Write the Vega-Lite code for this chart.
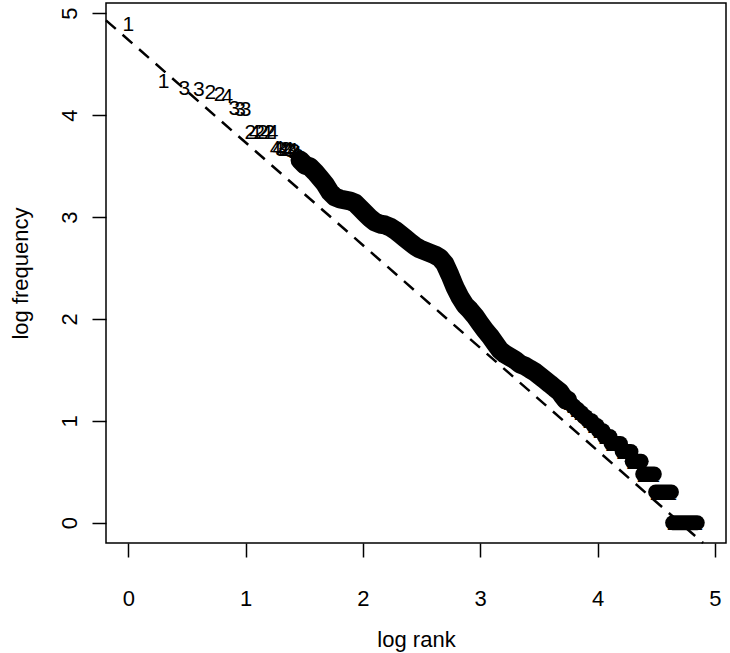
{
  "$schema": "https://vega.github.io/schema/vega-lite/v6.json",
  "width": 620,
  "height": 540,
  "autosize": {"type": "none"},
  "padding": {"left": 106, "top": 3, "right": 4, "bottom": 110},
  "background": "white",
  "config": {
    "view": {"stroke": "black", "strokeWidth": 1.5},
    "font": "Liberation Sans",
    "axis": {
      "grid": false,
      "domain": false,
      "ticks": true,
      "tickColor": "black",
      "tickWidth": 1.5,
      "tickSize": 14,
      "labelFont": "Liberation Sans",
      "labelFontSize": 22,
      "labelColor": "black",
      "labelFlush": false,
      "labelOverlap": false,
      "titleFont": "Liberation Sans",
      "titleFontSize": 22,
      "titleFontWeight": "normal",
      "titleColor": "black"
    }
  },
  "datasets": {
    "pts": [
      {"x": 0, "y": 4.9, "lab": "1", "g": "top"},
      {"x": 0.301, "y": 4.335, "lab": "1", "g": "top"},
      {"x": 0.477, "y": 4.27, "lab": "3", "g": "top"},
      {"x": 0.602, "y": 4.265, "lab": "3", "g": "top"},
      {"x": 0.699, "y": 4.23, "lab": "2", "g": "top"},
      {"x": 0.778, "y": 4.21, "lab": "2", "g": "top"},
      {"x": 0.845, "y": 4.19, "lab": "4", "g": "top"},
      {"x": 0.903, "y": 4.07, "lab": "3", "g": "top"},
      {"x": 0.954, "y": 4.065, "lab": "3", "g": "top"},
      {"x": 1.0, "y": 4.06, "lab": "3", "g": "top"},
      {"x": 1.041, "y": 3.84, "lab": "2", "g": "top"},
      {"x": 1.079, "y": 3.84, "lab": "4", "g": "top"},
      {"x": 1.114, "y": 3.84, "lab": "2", "g": "top"},
      {"x": 1.146, "y": 3.837, "lab": "2", "g": "top"},
      {"x": 1.176, "y": 3.837, "lab": "4", "g": "top"},
      {"x": 1.204, "y": 3.835, "lab": "2", "g": "top"},
      {"x": 1.23, "y": 3.835, "lab": "4", "g": "top"},
      {"x": 1.255, "y": 3.68, "lab": "4", "g": "top"},
      {"x": 1.279, "y": 3.68, "lab": "4", "g": "top"},
      {"x": 1.301, "y": 3.675, "lab": "3", "g": "top"},
      {"x": 1.322, "y": 3.675, "lab": "4", "g": "top"},
      {"x": 1.342, "y": 3.67, "lab": "2", "g": "top"},
      {"x": 1.362, "y": 3.67, "lab": "4", "g": "top"},
      {"x": 1.38, "y": 3.667, "lab": "3", "g": "top"},
      {"x": 1.398, "y": 3.66, "lab": "4", "g": "top"},
      {"x": 1.415, "y": 3.65, "lab": "2", "g": "top"},
      {"x": 1.431, "y": 3.637, "lab": "4", "g": "top"},
      {"x": 1.447, "y": 3.6, "lab": "3", "g": "top"},
      {"x": 1.464, "y": 3.559, "lab": "4", "g": "b"},
      {"x": 1.506, "y": 3.51, "lab": "2", "g": "b"},
      {"x": 1.549, "y": 3.491, "lab": "3", "g": "b"},
      {"x": 1.591, "y": 3.442, "lab": "1", "g": "b"},
      {"x": 1.634, "y": 3.383, "lab": "2", "g": "b"},
      {"x": 1.677, "y": 3.324, "lab": "4", "g": "b"},
      {"x": 1.719, "y": 3.245, "lab": "3", "g": "b"},
      {"x": 1.762, "y": 3.196, "lab": "2", "g": "b"},
      {"x": 1.804, "y": 3.177, "lab": "2", "g": "b"},
      {"x": 1.847, "y": 3.167, "lab": "3", "g": "b"},
      {"x": 1.89, "y": 3.157, "lab": "1", "g": "b"},
      {"x": 1.932, "y": 3.137, "lab": "2", "g": "b"},
      {"x": 1.975, "y": 3.088, "lab": "4", "g": "b"},
      {"x": 2.017, "y": 3.039, "lab": "2", "g": "b"},
      {"x": 2.06, "y": 2.99, "lab": "3", "g": "b"},
      {"x": 2.103, "y": 2.951, "lab": "2", "g": "b"},
      {"x": 2.145, "y": 2.931, "lab": "1", "g": "b"},
      {"x": 2.188, "y": 2.922, "lab": "2", "g": "b"},
      {"x": 2.23, "y": 2.902, "lab": "3", "g": "b"},
      {"x": 2.273, "y": 2.872, "lab": "2", "g": "b"},
      {"x": 2.316, "y": 2.833, "lab": "4", "g": "b"},
      {"x": 2.358, "y": 2.794, "lab": "2", "g": "b"},
      {"x": 2.401, "y": 2.754, "lab": "1", "g": "b"},
      {"x": 2.444, "y": 2.715, "lab": "3", "g": "b"},
      {"x": 2.486, "y": 2.686, "lab": "2", "g": "b"},
      {"x": 2.529, "y": 2.666, "lab": "2", "g": "b"},
      {"x": 2.571, "y": 2.647, "lab": "4", "g": "b"},
      {"x": 2.614, "y": 2.627, "lab": "2", "g": "b"},
      {"x": 2.656, "y": 2.598, "lab": "3", "g": "b"},
      {"x": 2.699, "y": 2.539, "lab": "2", "g": "b"},
      {"x": 2.742, "y": 2.431, "lab": "1", "g": "b"},
      {"x": 2.784, "y": 2.313, "lab": "2", "g": "b"},
      {"x": 2.827, "y": 2.215, "lab": "2", "g": "b"},
      {"x": 2.87, "y": 2.136, "lab": "3", "g": "b"},
      {"x": 2.912, "y": 2.087, "lab": "2", "g": "b"},
      {"x": 2.955, "y": 2.028, "lab": "4", "g": "b"},
      {"x": 2.997, "y": 1.959, "lab": "2", "g": "b"},
      {"x": 3.04, "y": 1.891, "lab": "1", "g": "b"},
      {"x": 3.083, "y": 1.832, "lab": "2", "g": "b"},
      {"x": 3.125, "y": 1.763, "lab": "3", "g": "b"},
      {"x": 3.168, "y": 1.695, "lab": "2", "g": "b"},
      {"x": 3.21, "y": 1.655, "lab": "2", "g": "b"},
      {"x": 3.253, "y": 1.626, "lab": "1", "g": "b"},
      {"x": 3.296, "y": 1.597, "lab": "4", "g": "b"},
      {"x": 3.338, "y": 1.558, "lab": "2", "g": "b"},
      {"x": 3.381, "y": 1.538, "lab": "3", "g": "b"},
      {"x": 3.423, "y": 1.508, "lab": "2", "g": "b"},
      {"x": 3.466, "y": 1.479, "lab": "1", "g": "b"},
      {"x": 3.509, "y": 1.44, "lab": "2", "g": "b"},
      {"x": 3.551, "y": 1.401, "lab": "2", "g": "b"},
      {"x": 3.594, "y": 1.362, "lab": "3", "g": "b"},
      {"x": 3.636, "y": 1.322, "lab": "2", "g": "b"},
      {"x": 3.679, "y": 1.283, "lab": "1", "g": "b"},
      {"x": 3.695, "y": 1.255, "lab": "2", "g": "b"},
      {"x": 3.712, "y": 1.23, "lab": "1", "g": "b"},
      {"x": 3.73, "y": 1.204, "lab": "2", "g": "b"},
      {"x": 3.745, "y": 1.204, "lab": "3", "g": "b"},
      {"x": 3.755, "y": 1.176, "lab": "2", "g": "f15"},
      {"x": 3.77, "y": 1.176, "lab": "1", "g": "f15"},
      {"x": 3.785, "y": 1.146, "lab": "2", "g": "f14"},
      {"x": 3.8, "y": 1.146, "lab": "3", "g": "f14"},
      {"x": 3.815, "y": 1.114, "lab": "2", "g": "f13"},
      {"x": 3.832, "y": 1.114, "lab": "1", "g": "f13"},
      {"x": 3.848, "y": 1.079, "lab": "2", "g": "f12"},
      {"x": 3.865, "y": 1.079, "lab": "2", "g": "f12"},
      {"x": 3.882, "y": 1.041, "lab": "3", "g": "f11"},
      {"x": 3.9, "y": 1.041, "lab": "2", "g": "f11"},
      {"x": 3.918, "y": 1.0, "lab": "1", "g": "f10"},
      {"x": 3.935, "y": 1.0, "lab": "2", "g": "f10"},
      {"x": 3.95, "y": 1.0, "lab": "3", "g": "f10"},
      {"x": 3.962, "y": 0.954, "lab": "2", "g": "f9"},
      {"x": 3.98, "y": 0.954, "lab": "2", "g": "f9"},
      {"x": 3.996, "y": 0.954, "lab": "1", "g": "f9"},
      {"x": 4.008, "y": 0.903, "lab": "2", "g": "f8"},
      {"x": 4.028, "y": 0.903, "lab": "3", "g": "f8"},
      {"x": 4.047, "y": 0.903, "lab": "2", "g": "f8"},
      {"x": 4.058, "y": 0.845, "lab": "2", "g": "f7"},
      {"x": 4.075, "y": 0.845, "lab": "1", "g": "f7"},
      {"x": 4.092, "y": 0.845, "lab": "3", "g": "f7"},
      {"x": 4.106, "y": 0.845, "lab": "2", "g": "f7"},
      {"x": 4.115, "y": 0.778, "lab": "2", "g": "f6"},
      {"x": 4.135, "y": 0.778, "lab": "3", "g": "f6"},
      {"x": 4.155, "y": 0.778, "lab": "2", "g": "f6"},
      {"x": 4.175, "y": 0.778, "lab": "1", "g": "f6"},
      {"x": 4.195, "y": 0.778, "lab": "2", "g": "f6"},
      {"x": 4.21, "y": 0.699, "lab": "2", "g": "f5"},
      {"x": 4.23, "y": 0.699, "lab": "3", "g": "f5"},
      {"x": 4.25, "y": 0.699, "lab": "2", "g": "f5"},
      {"x": 4.27, "y": 0.699, "lab": "1", "g": "f5"},
      {"x": 4.285, "y": 0.699, "lab": "2", "g": "f5"},
      {"x": 4.295, "y": 0.602, "lab": "2", "g": "f4"},
      {"x": 4.315, "y": 0.602, "lab": "3", "g": "f4"},
      {"x": 4.335, "y": 0.602, "lab": "2", "g": "f4"},
      {"x": 4.355, "y": 0.602, "lab": "1", "g": "f4"},
      {"x": 4.372, "y": 0.602, "lab": "2", "g": "f4"},
      {"x": 4.385, "y": 0.477, "lab": "2", "g": "f3"},
      {"x": 4.405, "y": 0.477, "lab": "3", "g": "f3"},
      {"x": 4.425, "y": 0.477, "lab": "2", "g": "f3"},
      {"x": 4.445, "y": 0.477, "lab": "1", "g": "f3"},
      {"x": 4.465, "y": 0.477, "lab": "2", "g": "f3"},
      {"x": 4.484, "y": 0.477, "lab": "2", "g": "f3"},
      {"x": 4.495, "y": 0.301, "lab": "2", "g": "f2"},
      {"x": 4.515, "y": 0.301, "lab": "3", "g": "f2"},
      {"x": 4.535, "y": 0.301, "lab": "2", "g": "f2"},
      {"x": 4.555, "y": 0.301, "lab": "1", "g": "f2"},
      {"x": 4.575, "y": 0.301, "lab": "2", "g": "f2"},
      {"x": 4.595, "y": 0.301, "lab": "2", "g": "f2"},
      {"x": 4.615, "y": 0.301, "lab": "3", "g": "f2"},
      {"x": 4.63, "y": 0.301, "lab": "2", "g": "f2"},
      {"x": 4.64, "y": 0, "lab": "2", "g": "f1"},
      {"x": 4.66, "y": 0, "lab": "3", "g": "f1"},
      {"x": 4.68, "y": 0, "lab": "2", "g": "f1"},
      {"x": 4.7, "y": 0, "lab": "1", "g": "f1"},
      {"x": 4.72, "y": 0, "lab": "2", "g": "f1"},
      {"x": 4.74, "y": 0, "lab": "2", "g": "f1"},
      {"x": 4.76, "y": 0, "lab": "3", "g": "f1"},
      {"x": 4.78, "y": 0, "lab": "2", "g": "f1"},
      {"x": 4.8, "y": 0, "lab": "1", "g": "f1"},
      {"x": 4.82, "y": 0, "lab": "2", "g": "f1"},
      {"x": 4.84, "y": 0, "lab": "3", "g": "f1"},
      {"x": 4.85, "y": 0, "lab": "2", "g": "f1"}
    ],
    "ref": [
      {"x": -0.19, "y": 4.93},
      {"x": 4.9, "y": -0.199}
    ]
  },
  "layer": [
    {
      "data": {"name": "pts"},
      "transform": [{"filter": "datum.g == 'b'"}],
      "mark": {"type": "line", "color": "black", "strokeWidth": 19, "strokeCap": "round", "strokeJoin": "round"},
      "encoding": {
        "x": {
          "field": "x", "type": "quantitative",
          "scale": {"domain": [-0.19, 5.095], "nice": false, "zero": false},
          "axis": {"values": [0, 1, 2, 3, 4, 5], "format": "d", "title": "log rank", "labelBaseline": "alphabetic", "labelPadding": 48, "titleY": 103, "titleBaseline": "alphabetic"}
        },
        "y": {
          "field": "y", "type": "quantitative",
          "scale": {"domain": [-0.199, 5.1], "nice": false, "zero": false},
          "axis": {"values": [0, 1, 2, 3, 4, 5], "format": "d", "title": "log frequency", "labelAngle": -90, "labelAlign": "center", "labelBaseline": "alphabetic", "labelPadding": 16, "titleAngle": -90, "titleX": -79, "titleBaseline": "alphabetic"}
        }
      }
    },
    {
      "data": {"name": "pts"},
      "transform": [{"filter": "datum.g != 'top' && datum.g != 'b'"}],
      "mark": {"type": "line", "color": "black", "strokeWidth": 15, "strokeCap": "round", "strokeJoin": "round"},
      "encoding": {
        "x": {"field": "x", "type": "quantitative"},
        "y": {"field": "y", "type": "quantitative"},
        "detail": {"field": "g", "type": "nominal"}
      }
    },
    {
      "data": {"name": "pts"},
      "mark": {"type": "text", "font": "Liberation Sans", "fontSize": 21, "color": "black", "align": "center", "baseline": "middle", "dy": 1.5},
      "encoding": {
        "x": {"field": "x", "type": "quantitative"},
        "y": {"field": "y", "type": "quantitative"},
        "text": {"field": "lab", "type": "nominal"}
      }
    },
    {
      "data": {"name": "ref"},
      "mark": {"type": "line", "color": "black", "strokeWidth": 2.5, "strokeDash": [13, 9]},
      "encoding": {
        "x": {"field": "x", "type": "quantitative"},
        "y": {"field": "y", "type": "quantitative"}
      }
    }
  ]
}
